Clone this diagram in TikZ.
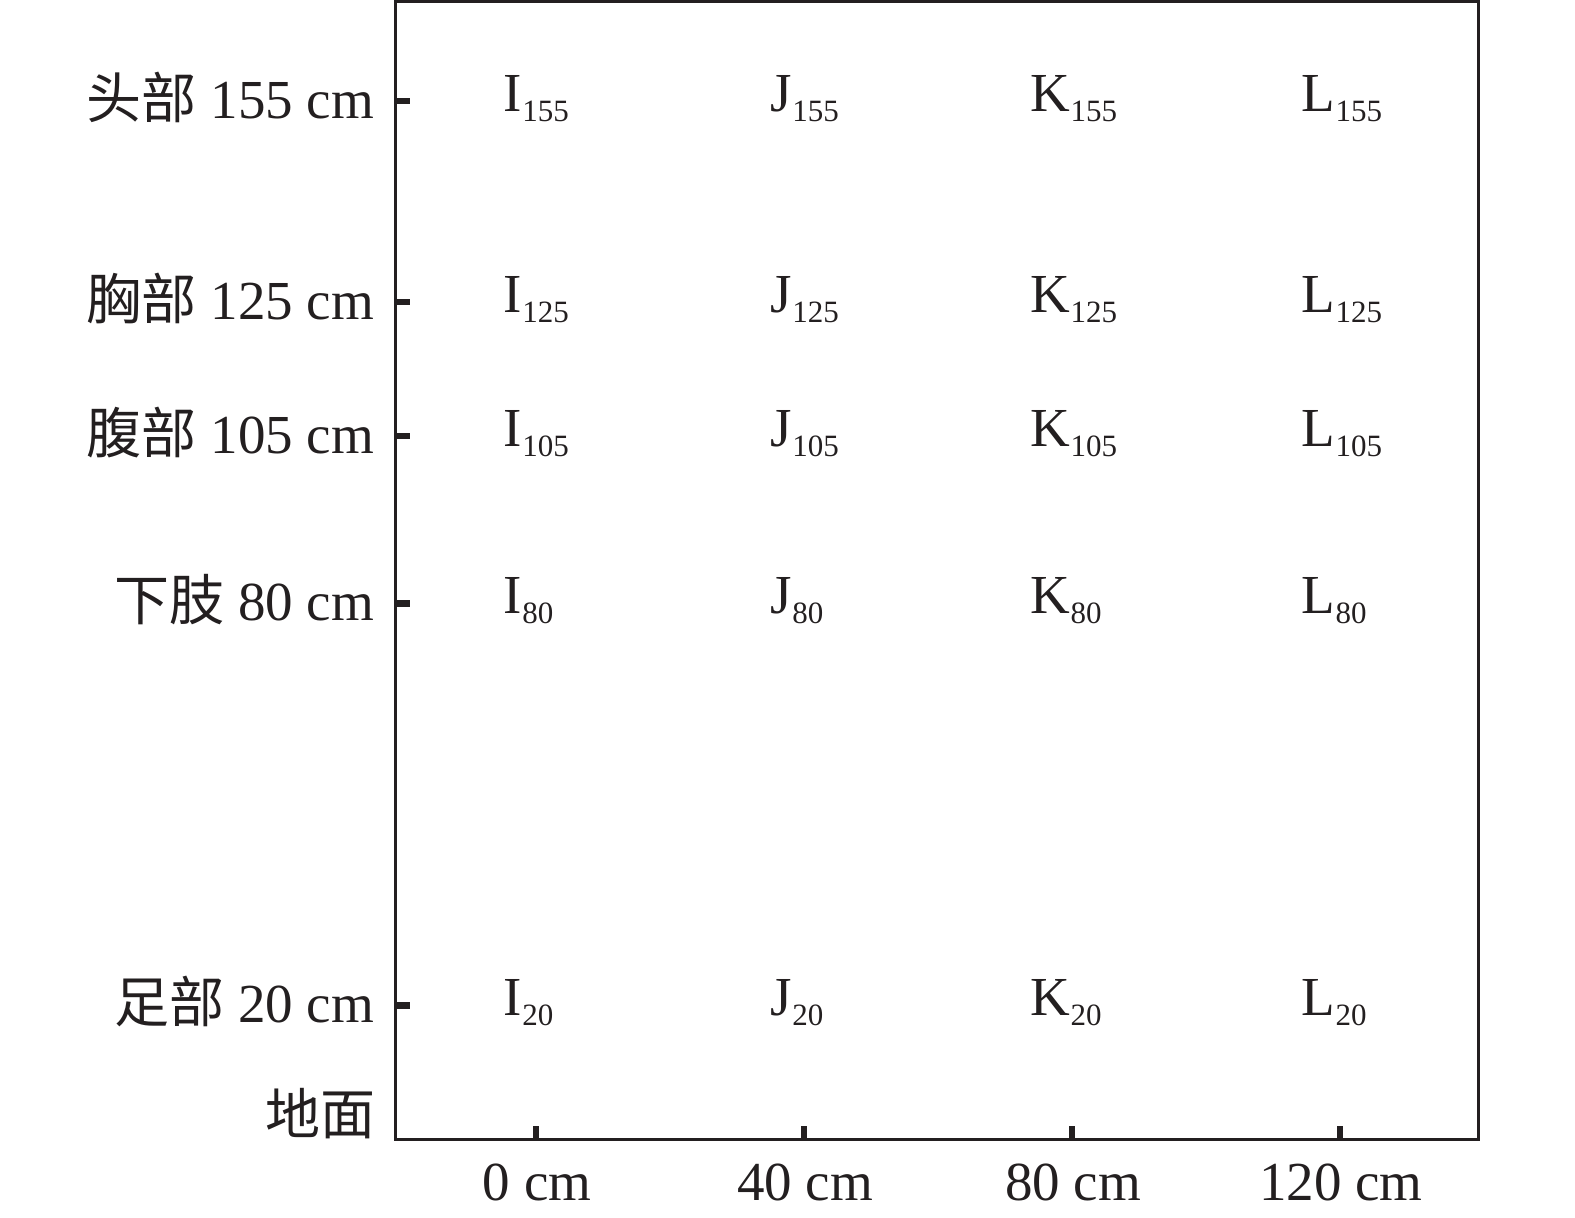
\documentclass[tikz,border=0pt]{standalone}
\usepackage{fontspec}
\setmainfont{Liberation Serif}
\newfontfamily\cjk{Noto Sans CJK SC}
\definecolor{ink}{HTML}{231F20}
\newcommand{\sublab}[2]{#1\hspace{1pt}\raisebox{-10pt}{\fontsize{31}{31}\selectfont #2}}
\begin{document}
\begin{tikzpicture}[x=1pt,y=-1pt,
  every node/.style={inner sep=0pt,outer sep=0pt,text=ink,font=\fontsize{55}{62}\selectfont},
  tick/.style={draw=ink,line width=6.5pt},
  cell/.style={anchor=base west},
  ylab/.style={anchor=base east},
  xlab/.style={anchor=base}]
\useasboundingbox (0,0) rectangle (1575,1218);
\node[draw=ink,line width=3pt,minimum width=1082.3pt,minimum height=1138pt,anchor=north west] (box) at (395.7,1.3) {};
% y ticks and labels
\foreach \h/\lab/\nm in {155/{\cjk 头部} 155 cm/a,125/{\cjk 胸部} 125 cm/b,105/{\cjk 腹部} 105 cm/c,80/{\cjk 下肢} 80 cm/d,20/{\cjk 足部} 20 cm/e}{
  \coordinate (yt\nm) at (395.7,{1139.5-6.7*\h});
  \coordinate (yte\nm) at (410,{1139.5-6.7*\h});
  \draw[tick] (yt\nm) -- (yte\nm);
  \node[ylab] (yl\nm) at (374,{1139.5-6.7*\h+17}) {\lab};
}
\node[anchor=east] (ground) at (375,1114) {\cjk 地面};
% x ticks and labels
\foreach \d/\nm in {0/a,40/b,80/c,120/d}{
  \coordinate (xt\nm) at ({536+6.7*\d},1140);
  \coordinate (xte\nm) at ({536+6.7*\d},1126);
  \draw[tick] (xt\nm) -- (xte\nm);
  \node[xlab] (xl\nm) at ({537+6.7*\d},1200) {\d\ cm};
}
% cell labels
\foreach \L/\x in {I/503,J/770,K/1030,L/1301}{
  \foreach \h in {155,125,105,80,20}{
    \node[cell] (\L\h) at (\x,{1139.5-6.7*\h+10}) {\sublab{\L}{\h}};
  }
}
\end{tikzpicture}
\end{document}
